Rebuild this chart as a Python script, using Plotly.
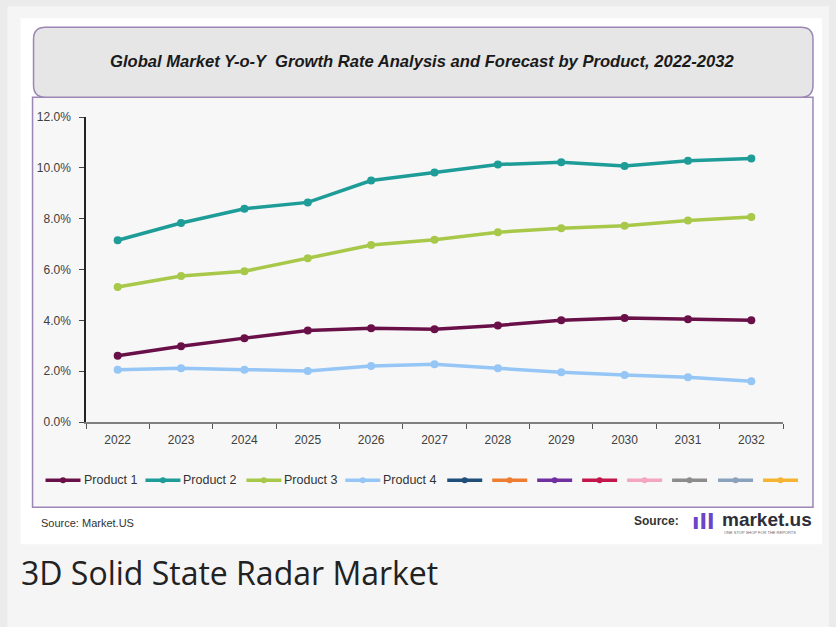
import plotly.graph_objects as go

years = ["2022", "2023", "2024", "2025", "2026", "2027", "2028", "2029", "2030", "2031", "2032"]
product1 = [2.61, 2.98, 3.30, 3.60, 3.69, 3.65, 3.80, 4.00, 4.09, 4.04, 4.00]
product2 = [7.15, 7.83, 8.39, 8.64, 9.50, 9.82, 10.13, 10.22, 10.07, 10.28, 10.37]
product3 = [5.31, 5.74, 5.93, 6.44, 6.96, 7.17, 7.47, 7.62, 7.72, 7.93, 8.07]
product4 = [2.06, 2.11, 2.06, 2.01, 2.20, 2.27, 2.11, 1.96, 1.85, 1.76, 1.60]

series_names = ["Product 1", "Product 2", "Product 3", "Product 4"]
series_colors = ["#6a1049", "#1e9c98", "#a8c84a", "#95c6f5"]
extra_colors = ["#1f4e79", "#ed7d31", "#7030a0", "#c3174c", "#f2a6c0", "#8c8c8c", "#8ba2bd", "#f4b432"]

title_text = "Global Market Y-o-Y  Growth Rate Analysis and Forecast by Product, 2022-2032"
caption_text = "3D Solid State Radar Market"

W_PX, H_PX = 836, 627
L, R, T, B = 85.5, 53, 116.7, 205.3
PW = W_PX - L - R
PH = H_PX - T - B


def fx(px):
    return (px - L) / PW


def fy(py):
    return 1 - (py - T) / PH


fig = go.Figure()
for name, vals, col in zip(series_names, [product1, product2, product3, product4], series_colors):
    fig.add_trace(go.Scatter(
        x=years, y=vals, name=name, mode="lines+markers",
        line=dict(color=col, width=3.5),
        marker=dict(color=col, size=8, symbol="circle"),
        showlegend=False, cliponaxis=False,
    ))

shapes = []
shapes.append(dict(type="rect", xref="paper", yref="paper", x0=fx(7), x1=fx(829), y0=fy(6), y1=fy(627),
                   fillcolor="#f5f5f5", line=dict(width=0), layer="below"))
shapes.append(dict(type="rect", xref="paper", yref="paper", x0=fx(20), x1=fx(822), y0=fy(18), y1=fy(544),
                   fillcolor="#ffffff", line=dict(width=0), layer="below"))
shapes.append(dict(type="rect", xref="paper", yref="paper", x0=fx(32), x1=fx(813), y0=fy(97), y1=fy(507),
                   fillcolor="#f7f7f7", line=dict(color="#9b86b6", width=1.5), layer="below"))
x0, x1, y0, y1, r = 33, 813, 27, 97, 12
pts = [
    ("M", x0 + r, y0), ("L", x1 - r, y0), ("Q", x1, y0, x1, y0 + r), ("L", x1, y1 - r),
    ("Q", x1, y1, x1 - r, y1), ("L", x0 + r, y1), ("Q", x0, y1, x0, y1 - r), ("L", x0, y0 + r),
    ("Q", x0, y0, x0 + r, y0),
]
path = ""
for p in pts:
    cmd = p[0]
    coords = p[1:]
    seg = []
    for i in range(0, len(coords), 2):
        seg.append(f"{fx(coords[i]):.5f},{fy(coords[i+1]):.5f}")
    path += cmd + " " + " ".join(seg) + " "
path += "Z"
shapes.append(dict(type="path", xref="paper", yref="paper", path=path,
                   fillcolor="#e6e6e6", line=dict(color="#9b86b6", width=1.5), layer="below"))

annotations = []
annotations.append(dict(text=f"<b><i>{title_text}</i></b>", xref="paper", yref="paper",
                        x=fx(422), y=fy(61), showarrow=False, xanchor="center", yanchor="middle",
                        font=dict(family="Liberation Sans", size=16.6, color="#1a1a1a")))

leg_y = 480
named_starts = [45, 145, 246, 345]
for name, col, xs in zip(series_names, series_colors, named_starts):
    shapes.append(dict(type="line", xref="paper", yref="paper", x0=fx(xs), x1=fx(xs + 35),
                       y0=fy(leg_y), y1=fy(leg_y), line=dict(color=col, width=3.5)))
    shapes.append(dict(type="circle", xref="paper", yref="paper", x0=fx(xs + 14.5), x1=fx(xs + 20.5),
                       y0=fy(leg_y - 3), y1=fy(leg_y + 3), fillcolor=col, line=dict(width=0)))
    annotations.append(dict(text=name, xref="paper", yref="paper", x=fx(xs + 36), y=fy(leg_y),
                            showarrow=False, xanchor="left", yanchor="middle",
                            font=dict(family="Liberation Sans", size=12.5, color="#333333")))
extra_starts = [447, 492, 537, 582, 627, 672, 718, 763]
for col, xs in zip(extra_colors, extra_starts):
    shapes.append(dict(type="line", xref="paper", yref="paper", x0=fx(xs), x1=fx(xs + 35),
                       y0=fy(leg_y), y1=fy(leg_y), line=dict(color=col, width=3.5)))
    shapes.append(dict(type="circle", xref="paper", yref="paper", x0=fx(xs + 14.5), x1=fx(xs + 20.5),
                       y0=fy(leg_y - 3), y1=fy(leg_y + 3), fillcolor=col, line=dict(width=0)))

annotations.append(dict(text="Source: Market.US", xref="paper", yref="paper", x=fx(38), y=fy(523),
                        showarrow=False, xanchor="left", yanchor="middle",
                        font=dict(family="Liberation Sans", size=11, color="#333333")))
annotations.append(dict(text="<b>Source:</b>", xref="paper", yref="paper", x=fx(632), y=fy(521),
                        showarrow=False, xanchor="left", yanchor="middle",
                        font=dict(family="Liberation Sans", size=12, color="#333333")))
annotations.append(dict(text="<b>ıll</b>", xref="paper", yref="paper", x=fx(703), y=fy(521),
                        showarrow=False, xanchor="center", yanchor="middle",
                        font=dict(family="DejaVu Sans", size=22, color="#6b45c8")))
annotations.append(dict(text="<b>market.us</b>", xref="paper", yref="paper", x=fx(720), y=fy(519),
                        showarrow=False, xanchor="left", yanchor="middle",
                        font=dict(family="Liberation Sans", size=19, color="#2e2e3a")))
annotations.append(dict(text="ONE STOP SHOP FOR THE REPORTS", xref="paper", yref="paper", x=fx(722), y=fy(532),
                        showarrow=False, xanchor="left", yanchor="middle",
                        font=dict(family="Liberation Sans", size=4, color="#666666")))
annotations.append(dict(text=caption_text, xref="paper", yref="paper", x=fx(18), y=fy(572),
                        showarrow=False, xanchor="left", yanchor="middle",
                        font=dict(family="Open Sans", size=32, color="#222222")))

fig.update_layout(
    width=W_PX, height=H_PX,
    margin=dict(l=L, r=R, t=T, b=B, pad=0),
    paper_bgcolor="#ebebeb",
    plot_bgcolor="rgba(0,0,0,0)",
    shapes=shapes,
    annotations=annotations,
    showlegend=False,
    xaxis=dict(
        type="category", range=[-0.5, 10.5], showgrid=False, zeroline=False,
        showline=True, linecolor="#7f7f7f", linewidth=1.5,
        ticks="outside", ticklen=5, tickcolor="#555555", tickson="boundaries",
        ticklabelstandoff=6,
        tickfont=dict(family="Liberation Sans", size=12, color="#404040"),
        fixedrange=True,
    ),
    yaxis=dict(
        range=[0, 12], dtick=2, tickformat=".1f", ticksuffix="%", showgrid=False, zeroline=False,
        showline=True, linecolor="#222222", linewidth=1.5,
        ticks="outside", ticklen=5, tickcolor="#444444",
        ticklabelstandoff=6,
        tickfont=dict(family="Liberation Sans", size=12, color="#404040"),
        fixedrange=True,
    ),
)

fig.write_html("out.html", config={"displayModeBar": False},
               post_script="document.body.style.margin='0';document.body.style.padding='0';")
